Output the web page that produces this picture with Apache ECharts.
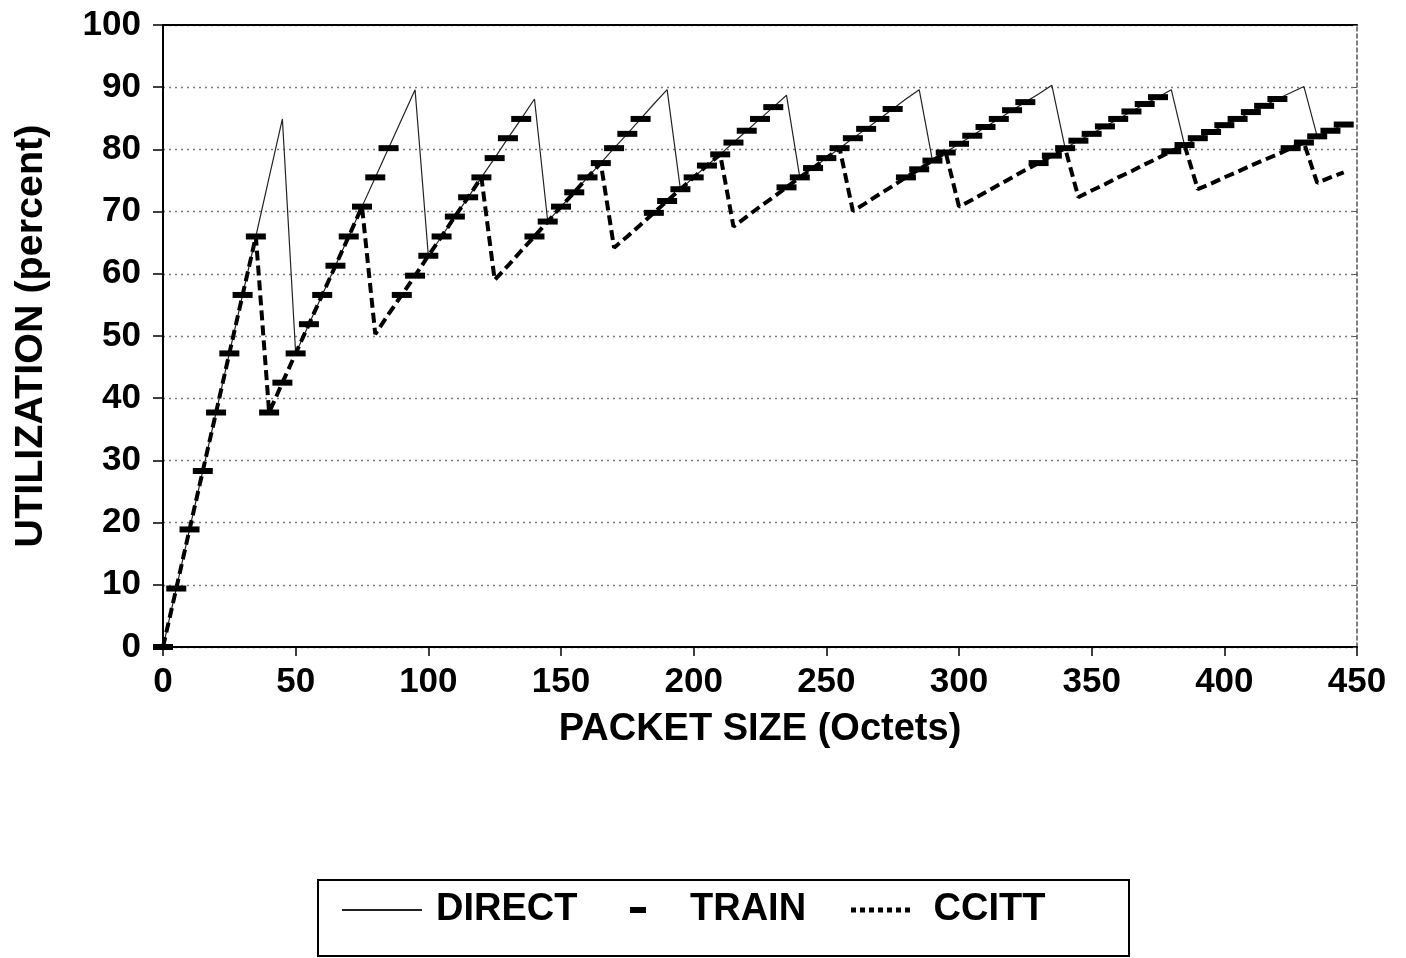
<!DOCTYPE html>
<html>
<head>
<meta charset="utf-8">
<script src="https://cdn.jsdelivr.net/npm/echarts@6/dist/echarts.min.js"></script>
<style>
html,body{margin:0;padding:0;background:#fff;}
#chart{width:1406px;height:958px;}
</style>
</head>
<body>
<div id="chart"></div>
<script>
// Packet sizes (octets) sampled in the figure
const packetSize = [0,5,10,15,20,25,30,35,40,45,50,55,60,65,70,75,80,85,90,95,100,105,110,115,120,125,130,135,140,145,150,155,160,165,170,175,180,185,190,195,200,205,210,215,220,225,230,235,240,245,250,255,260,265,270,275,280,285,290,295,300,305,310,315,320,325,330,335,340,345,350,355,360,365,370,375,380,385,390,395,400,405,410,415,420,425,430,435,440,445];

// Utilization (percent)
const direct = [0,9.4,18.9,28.3,37.7,47.2,56.6,66.0,75.5,84.9,
  47.2,51.9,56.6,61.3,66.0,70.8,75.5,80.2,84.9,89.6,
  62.9,66.0,69.2,72.3,75.5,78.6,81.8,84.9,88.1,
  68.4,70.8,73.1,75.5,77.8,80.2,82.5,84.9,87.3,89.6,
  73.6,75.5,77.4,79.2,81.1,83.0,84.9,86.8,88.7,
  75.5,77.0,78.6,80.2,81.8,83.3,84.9,86.5,88.1,89.6,
  78.2,79.5,80.9,82.2,83.6,84.9,86.3,87.6,88.9,90.3,
  80.2,81.4,82.5,83.7,84.9,86.1,87.3,88.4,89.6,
  80.7,81.8,82.8,83.9,84.9,86.0,87.0,88.1,89.1,90.1,
  82.1,83.0,84.0];

const train = [0,9.4,18.9,28.3,37.7,47.2,56.6,66.0,
  37.7,42.5,47.2,51.9,56.6,61.3,66.0,70.8,75.5,80.2,
  56.6,59.7,62.9,66.0,69.2,72.3,75.5,78.6,81.8,84.9,
  66.0,68.4,70.8,73.1,75.5,77.8,80.2,82.5,84.9,
  69.8,71.7,73.6,75.5,77.4,79.2,81.1,83.0,84.9,86.8,
  73.9,75.5,77.0,78.6,80.2,81.8,83.3,84.9,86.5,
  75.5,76.8,78.2,79.5,80.9,82.2,83.6,84.9,86.3,87.6,
  77.8,79.0,80.2,81.4,82.5,83.7,84.9,86.1,87.3,88.4,
  79.7,80.7,81.8,82.8,83.9,84.9,86.0,87.0,88.1,
  80.2,81.1,82.1,83.0,84.0];

const ccitt = [0,9.4,18.9,28.3,37.7,47.2,56.6,66.0,
  37.7,42.5,47.2,51.9,56.6,61.3,66.0,70.8,
  50.3,53.5,56.6,59.7,62.9,66.0,69.2,72.3,75.5,
  59.0,61.3,63.7,66.0,68.4,70.8,73.1,75.5,77.8,
  64.2,66.0,67.9,69.8,71.7,73.6,75.5,77.4,79.2,
  67.6,69.2,70.8,72.3,73.9,75.5,77.0,78.6,80.2,
  70.1,71.4,72.8,74.1,75.5,76.8,78.2,79.5,
  70.8,71.9,73.1,74.3,75.5,76.7,77.8,79.0,80.2,
  72.3,73.4,74.4,75.5,76.5,77.6,78.6,79.7,80.7,
  73.6,74.5,75.5,76.4,77.4,78.3,79.2,80.2,81.1,
  74.6,75.5,76.3];

const seriesNames = ['DIRECT','TRAIN','CCITT'];
const xTitle = 'PACKET SIZE (Octets)';
const yTitle = 'UTILIZATION (percent)';

const FONT = '"Liberation Sans", Arial, Helvetica, sans-serif';
const pairs = arr => packetSize.map((x, i) => [x, arr[i]]);

const chart = echarts.init(document.getElementById('chart'), null, {renderer: 'canvas'});
chart.setOption({
  animation: false,
  backgroundColor: '#fff',
  textStyle: {fontFamily: FONT, color: '#000'},
  grid: {left: 163, right: 49, top: 25, bottom: 311, containLabel: false},
  xAxis: [{
    type: 'value', min: 0, max: 450, interval: 50,
    name: xTitle, nameLocation: 'middle', nameGap: 64,
    nameTextStyle: {fontFamily: FONT, fontSize: 38, fontWeight: 'bold', color: '#000'},
    axisLine: {show: true, onZero: false, lineStyle: {color: '#000', width: 2}},
    axisTick: {show: true, inside: false, length: 9, lineStyle: {color: '#000', width: 1.5}},
    axisLabel: {fontFamily: FONT, fontSize: 35, fontWeight: 'bold', color: '#000', margin: 18},
    splitLine: {show: false}
  }, {
    type: 'value', min: 0, max: 450, position: 'top',
    axisLine: {show: true, onZero: false, lineStyle: {color: '#000', width: 2}},
    axisTick: {show: false}, axisLabel: {show: false}, splitLine: {show: false}
  }],
  yAxis: [{
    type: 'value', min: 0, max: 100, interval: 10,
    name: yTitle, nameLocation: 'middle', nameGap: 112,
    nameTextStyle: {fontFamily: FONT, fontSize: 39.5, fontWeight: 'bold', color: '#000'},
    axisLine: {show: true, onZero: false, lineStyle: {color: '#000', width: 2}},
    axisTick: {show: true, inside: false, length: 10, lineStyle: {color: '#000', width: 1.5}},
    axisLabel: {fontFamily: FONT, fontSize: 35, fontWeight: 'bold', color: '#000', margin: 22},
    splitLine: {show: true, lineStyle: {color: '#777', width: 1.3, type: [2, 4]}}
  }, {
    type: 'value', min: 0, max: 100, interval: 10, position: 'right',
    axisLine: {show: true, onZero: false, lineStyle: {color: '#555', width: 1.5, type: [4, 3]}},
    axisTick: {show: true, inside: true, length: 4, lineStyle: {color: '#555'}},
    axisLabel: {show: false}, splitLine: {show: false}
  }],
  legend: [{
    data: [seriesNames[0]], left: 341, top: 891, padding: 0,
    itemWidth: 80, itemHeight: 2, selectedMode: false,
    textStyle: {fontFamily: FONT, fontSize: 38, fontWeight: 'bold', color: '#000', padding: [0, 0, 0, 9]}
  }, {
    data: [{name: seriesNames[1], icon: 'rect'}], left: 630, top: 891, padding: 0,
    itemWidth: 16, itemHeight: 6, selectedMode: false,
    textStyle: {fontFamily: FONT, fontSize: 38, fontWeight: 'bold', color: '#000', padding: [0, 0, 0, 39]}
  }, {
    data: [{name: seriesNames[2], icon: 'path://M0,0h5v5h-5z M9,0h5v5h-5z M18,0h5v5h-5z M27,0h5v5h-5z M36,0h5v5h-5z M45,0h5v5h-5z M54,0h5v5h-5z'}],
    left: 851, top: 891, padding: 0,
    itemWidth: 62, itemHeight: 5, selectedMode: false,
    textStyle: {fontFamily: FONT, fontSize: 38, fontWeight: 'bold', color: '#000', padding: [0, 0, 0, 17]}
  }],
  graphic: [{
    type: 'rect', silent: true,
    shape: {x: 318, y: 880, width: 811, height: 76},
    style: {fill: 'none', stroke: '#000', lineWidth: 2}
  }],
  series: [{
    name: seriesNames[0], type: 'line', data: pairs(direct),
    symbol: 'none', color: '#222', z: 2,
    lineStyle: {color: '#222', width: 1.2}
  }, {
    name: seriesNames[1], type: 'line', data: pairs(train),
    symbol: 'rect', symbolSize: [20, 6], showSymbol: true, color: '#000', z: 4,
    itemStyle: {color: '#000', borderWidth: 0},
    lineStyle: {width: 0, opacity: 0}
  }, {
    name: seriesNames[2], type: 'line', data: pairs(ccitt),
    symbol: 'none', color: '#000', z: 3,
    lineStyle: {color: '#000', width: 4, type: [10, 5]}
  }]
});
</script>
</body>
</html>
